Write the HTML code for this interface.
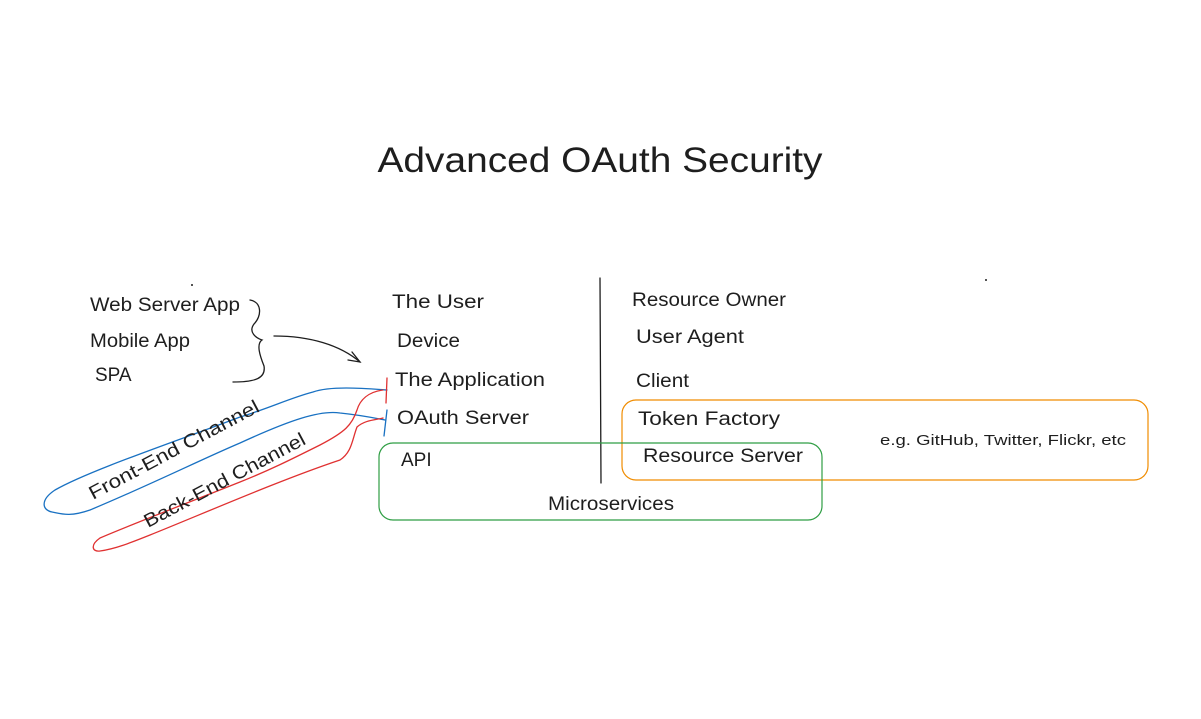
<!DOCTYPE html>
<html><head><meta charset="utf-8"><style>
html,body{margin:0;padding:0;background:#fff;}
svg{display:block;}
text{font-family:"Liberation Sans",sans-serif;fill:#1e1e1e;}
</style></head><body>
<svg width="1201" height="719" viewBox="0 0 1201 719" xmlns="http://www.w3.org/2000/svg">
<rect width="1201" height="719" fill="#fff"/>
<text x="600" y="172" font-size="35" text-anchor="middle" textLength="445" lengthAdjust="spacingAndGlyphs">Advanced OAuth Security</text>
<circle cx="192" cy="285" r="1" fill="#1e1e1e"/>
<circle cx="986" cy="280" r="1" fill="#1e1e1e"/>
<g font-size="19">
<text x="90" y="311" textLength="150" lengthAdjust="spacingAndGlyphs">Web Server App</text>
<text x="90" y="347" textLength="100" lengthAdjust="spacingAndGlyphs">Mobile App</text>
<text x="95" y="381">SPA</text>
<text x="392" y="308" textLength="92" lengthAdjust="spacingAndGlyphs">The User</text>
<text x="397" y="347" textLength="63" lengthAdjust="spacingAndGlyphs">Device</text>
<text x="395" y="386" textLength="150" lengthAdjust="spacingAndGlyphs">The Application</text>
<text x="397" y="424" textLength="132" lengthAdjust="spacingAndGlyphs">OAuth Server</text>
<text x="401" y="466">API</text>
<text x="632" y="306" textLength="154" lengthAdjust="spacingAndGlyphs">Resource Owner</text>
<text x="636" y="343" textLength="108" lengthAdjust="spacingAndGlyphs">User Agent</text>
<text x="636" y="387" textLength="53" lengthAdjust="spacingAndGlyphs">Client</text>
<text x="638" y="425" textLength="142" lengthAdjust="spacingAndGlyphs">Token Factory</text>
<text x="643" y="462" textLength="160" lengthAdjust="spacingAndGlyphs">Resource Server</text>
<text x="548" y="510" textLength="126" lengthAdjust="spacingAndGlyphs">Microservices</text>
</g>
<text x="880" y="445" font-size="15" textLength="246" lengthAdjust="spacingAndGlyphs">e.g. GitHub, Twitter, Flickr, etc</text>
<g fill="none" stroke="#1e1e1e" stroke-width="1.3" stroke-linecap="round">
<path d="M250 300 C262 302 262 316 254 324 C248 332 256 338 262 340 C256 344 260 356 264 366 C266 378 256 382 233 382"/>
<path d="M274 336 C310 336 340 345 360 362"/>
<path d="M352 352 L360 362 L348 360"/>
<path d="M600 278 L601 483"/>
</g>
<rect x="622" y="400" width="526" height="80" rx="14" fill="none" stroke="#f08c00" stroke-width="1.2"/>
<rect x="379" y="443" width="443" height="77" rx="14" fill="none" stroke="#2f9e44" stroke-width="1.2"/>
<g fill="none" stroke-width="1.3" stroke-linecap="round">
<path stroke="#1971c2" d="M387 390 C360 388 330 386 313 392 C290 398 270 408 240 417 C180 440 90 470 55 490 C40 500 42 510 52 512 C62 514 70 517 90 510 C150 485 200 460 240 443 C290 420 320 410 340 413 C360 415 375 418 385 420"/>
<path stroke="#1971c2" d="M387 410 L384 436"/>
<path stroke="#e03131" d="M387 378 L386 403"/>
<path stroke="#e03131" d="M383 390 C368 392 360 400 357 410 C352 425 345 432 320 445 C290 460 270 470 240 482 C190 502 130 525 100 538 C90 545 92 552 100 551 C115 549 130 543 150 535 C200 515 280 480 340 460 C352 452 352 440 357 427 C365 420 375 420 383 418"/>
</g>
<text font-size="19" transform="translate(93 500) rotate(-28)" textLength="190" lengthAdjust="spacingAndGlyphs">Front-End Channel</text>
<text font-size="19" transform="translate(148 528) rotate(-28)" textLength="180" lengthAdjust="spacingAndGlyphs">Back-End Channel</text>
</svg>
</body></html>
